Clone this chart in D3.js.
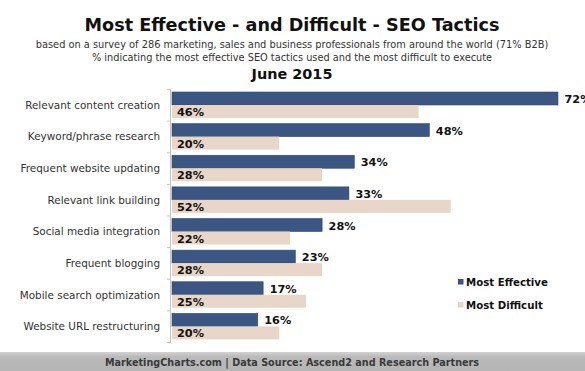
<!DOCTYPE html>
<html><head><meta charset="utf-8">
<script src="https://cdn.jsdelivr.net/npm/d3@7"></script>
<style>html,body{margin:0;padding:0;background:#fff;}svg{display:block;}</style>
</head><body>
<script>
const categories = ["Relevant content creation","Keyword/phrase research","Frequent website updating","Relevant link building","Social media integration","Frequent blogging","Mobile search optimization","Website URL restructuring"];
const mostEffective = [72,48,34,33,28,23,17,16];
const mostDifficult = [46,20,28,52,22,28,25,20];
const seriesNames = ["Most Effective","Most Difficult"];
const title = "Most Effective - and Difficult - SEO Tactics";
const subtitle1 = "based on a survey of 286 marketing, sales and business professionals from around the world (71% B2B)";
const subtitle2 = "% indicating the most effective SEO tactics used and the most difficult to execute";
const dateLabel = "June 2015";
const footer = "MarketingCharts.com | Data Source: Ascend2 and Research Partners";

const W = 585, H = 371;
const colors = ["#3b5683", "#e8d6c8"];
const font = "'DejaVu Sans', Verdana, sans-serif";
const svg = d3.select("body").append("svg").attr("width", W).attr("height", H)
  .style("font-family", font);

// set font size so that the text spans the target width
function fit(sel, target) {
  const base = 12;
  sel.attr("font-size", base);
  const w = sel.node().getComputedTextLength();
  const s = base * target / w;
  sel.attr("font-size", s);
  return s;
}

const cx = 292;
fit(svg.append("text").attr("x", cx).attr("y", 31).attr("text-anchor","middle")
  .attr("font-weight","bold").attr("fill","#111").text(title), 415);
fit(svg.append("text").attr("x", cx).attr("y", 48).attr("text-anchor","middle")
  .attr("fill","#333").text(subtitle1), 513);
fit(svg.append("text").attr("x", cx).attr("y", 61).attr("text-anchor","middle")
  .attr("fill","#333").text(subtitle2), 401);
fit(svg.append("text").attr("x", cx).attr("y", 79).attr("text-anchor","middle")
  .attr("font-weight","bold").attr("fill","#111").text(dateLabel), 81);

const x0 = 172;
const x = d3.scaleLinear().domain([0, 72]).range([x0, 558]);
const y = d3.scaleBand().domain(categories).range([89, 342]).paddingInner(0).paddingOuter(0);
const sub = d3.scaleBand().domain(seriesNames).range([3, 29]);

// axis line with ticks at band boundaries
const axisG = svg.append("g");
axisG.append("line").attr("x1", x0-1.5).attr("x2", x0-1.5).attr("y1", 89).attr("y2", 342)
  .attr("stroke", "#c4c4c4").attr("stroke-width", 1);
const bounds = categories.map(c => y(c)).concat([342]);
axisG.selectAll("line.tk").data(bounds).join("line").attr("class","tk")
  .attr("x1", x0-5).attr("x2", x0-1).attr("y1", d => d+0.5).attr("y2", d => d+0.5)
  .attr("stroke", "#c4c4c4");

// category labels
const catLabels = svg.append("g").selectAll("text").data(categories).join("text")
  .attr("x", 160).attr("y", d => y(d) + y.bandwidth()/2 + 4)
  .attr("text-anchor","end").attr("fill","#333").text(d => d);
const catSize = fit(d3.select(catLabels.nodes()[0]), 135);
catLabels.attr("font-size", catSize);

const groups = svg.append("g").selectAll("g").data(categories).join("g")
  .attr("transform", d => `translate(0,${y(d)})`);

// effective bars
groups.append("rect")
  .attr("x", x0).attr("y", sub("Most Effective"))
  .attr("width", (d,i) => x(mostEffective[i]) - x0).attr("height", sub.bandwidth())
  .attr("fill", colors[0]).attr("stroke", "#2f4a75").attr("stroke-width", 0.6);
const effLabels = groups.append("text")
  .attr("x", (d,i) => x(mostEffective[i]) + 6.5).attr("y", sub("Most Effective") + sub.bandwidth()/2 + 4.5)
  .attr("font-weight","bold").attr("fill","#111")
  .text((d,i) => mostEffective[i] + "%");
const valSize = fit(d3.select(effLabels.nodes()[1]), 27);
effLabels.attr("font-size", valSize);
// difficult bars
groups.append("rect")
  .attr("x", x0).attr("y", sub("Most Difficult"))
  .attr("width", (d,i) => x(mostDifficult[i]) - x0).attr("height", sub.bandwidth())
  .attr("fill", colors[1]);
groups.append("text")
  .attr("x", x0 + 5).attr("y", sub("Most Difficult") + sub.bandwidth()/2 + 4.5)
  .attr("font-size", valSize).attr("font-weight","bold").attr("fill","#111")
  .text((d,i) => mostDifficult[i] + "%");

// legend
const leg = svg.append("g").selectAll("g").data(seriesNames).join("g")
  .attr("transform", (d,i) => `translate(458,${286 + i*23})`);
leg.append("rect").attr("x",0).attr("y",-7).attr("width",5.5).attr("height",5.5)
  .attr("fill", (d,i) => colors[i]);
const legText = leg.append("text").attr("x", 8).attr("y", 0).attr("font-weight","bold")
  .attr("fill","#111").text(d => d);
const legSize = fit(d3.select(legText.nodes()[0]), 82);
legText.attr("font-size", legSize);

// footer
const grad = svg.append("defs").append("linearGradient").attr("id","fg")
  .attr("x1",0).attr("x2",0).attr("y1",0).attr("y2",1);
grad.append("stop").attr("offset","0%").attr("stop-color","#d2d2d2");
grad.append("stop").attr("offset","25%").attr("stop-color","#bababa");
grad.append("stop").attr("offset","100%").attr("stop-color","#b5b5b5");
svg.append("rect").attr("x",0).attr("y",352).attr("width",W).attr("height",H-352).attr("fill","url(#fg)");
fit(svg.append("text").attr("x", cx).attr("y", 366).attr("text-anchor","middle")
  .attr("font-weight","bold").attr("fill","#3a3a3a").text(footer), 375);
</script>
</body></html>
